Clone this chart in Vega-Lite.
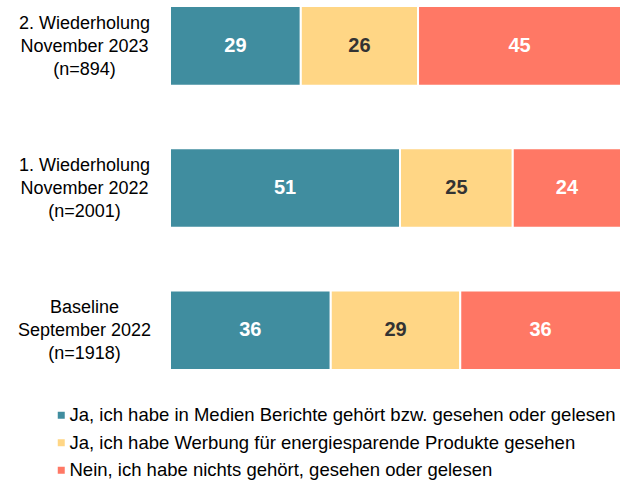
{
  "$schema": "https://vega.github.io/schema/vega-lite/v6.json",
  "width": 451,
  "height": 364,
  "autosize": "none",
  "padding": {"left": 170, "top": 6, "right": 0, "bottom": 114},
  "config": {"view": {"stroke": null}, "font": "Arial"},
  "data": {"values": [
    {"welle": "2. Wiederholung|November 2023|(n=894)", "antwort": "Ja, ich habe in Medien Berichte gehört bzw. gesehen oder gelesen", "k": 1, "wert": 29},
    {"welle": "2. Wiederholung|November 2023|(n=894)", "antwort": "Ja, ich habe Werbung für energiesparende Produkte gesehen", "k": 2, "wert": 26},
    {"welle": "2. Wiederholung|November 2023|(n=894)", "antwort": "Nein, ich habe nichts gehört, gesehen oder gelesen", "k": 3, "wert": 45},
    {"welle": "1. Wiederholung|November 2022|(n=2001)", "antwort": "Ja, ich habe in Medien Berichte gehört bzw. gesehen oder gelesen", "k": 1, "wert": 51},
    {"welle": "1. Wiederholung|November 2022|(n=2001)", "antwort": "Ja, ich habe Werbung für energiesparende Produkte gesehen", "k": 2, "wert": 25},
    {"welle": "1. Wiederholung|November 2022|(n=2001)", "antwort": "Nein, ich habe nichts gehört, gesehen oder gelesen", "k": 3, "wert": 24},
    {"welle": "Baseline|September 2022|(n=1918)", "antwort": "Ja, ich habe in Medien Berichte gehört bzw. gesehen oder gelesen", "k": 1, "wert": 36},
    {"welle": "Baseline|September 2022|(n=1918)", "antwort": "Ja, ich habe Werbung für energiesparende Produkte gesehen", "k": 2, "wert": 29},
    {"welle": "Baseline|September 2022|(n=1918)", "antwort": "Nein, ich habe nichts gehört, gesehen oder gelesen", "k": 3, "wert": 36}
  ]},
  "transform": [
    {"stack": "wert", "groupby": ["welle"], "sort": [{"field": "k", "order": "ascending"}], "offset": "normalize", "as": ["x0", "x1"]},
    {"calculate": "(datum.x0 + datum.x1) / 2", "as": "xm"}
  ],
  "encoding": {
    "y": {
      "field": "welle", "type": "nominal", "sort": null,
      "scale": {"paddingInner": 0.44, "paddingOuter": 0},
      "axis": {
        "title": null, "ticks": false, "domain": false,
        "labelExpr": "split(datum.label, '|')",
        "labelAlign": "center", "labelBaseline": "middle",
        "labelPadding": 86, "labelFontSize": 18, "labelColor": "#000000",
        "labelLineHeight": 23, "labelFont": "Arial", "labelOffset": -22
      }
    }
  },
  "layer": [
    {
      "mark": {"type": "bar", "stroke": "white", "strokeWidth": 2},
      "encoding": {
        "x": {"field": "x0", "type": "quantitative", "scale": {"domain": [0, 1], "nice": false}, "axis": null},
        "x2": {"field": "x1"},
        "color": {
          "field": "antwort", "type": "nominal",
          "sort": ["Ja, ich habe in Medien Berichte gehört bzw. gesehen oder gelesen", "Ja, ich habe Werbung für energiesparende Produkte gesehen", "Nein, ich habe nichts gehört, gesehen oder gelesen"],
          "scale": {
            "domain": ["Ja, ich habe in Medien Berichte gehört bzw. gesehen oder gelesen", "Ja, ich habe Werbung für energiesparende Produkte gesehen", "Nein, ich habe nichts gehört, gesehen oder gelesen"],
            "range": ["#408D9F", "#FFD685", "#FF7865"]
          },
          "legend": {
            "title": null, "orient": "none", "legendX": -118, "legendY": 400,
            "symbolType": "square", "symbolSize": 49, "symbolStrokeWidth": 0,
            "labelFontSize": 18.5, "labelColor": "#000000", "labelFont": "Arial",
            "rowPadding": 8.5, "labelOffset": -1, "labelLimit": 800
          }
        }
      }
    },
    {
      "mark": {"type": "text", "fontSize": 20, "fontWeight": "bold", "font": "Arial", "baseline": "middle", "align": "center"},
      "encoding": {
        "x": {"field": "xm", "type": "quantitative"},
        "text": {"field": "wert", "type": "quantitative"},
        "color": {
          "condition": {"test": "datum.k == 2", "value": "#333333"},
          "value": "#FFFFFF"
        }
      }
    }
  ]
}
